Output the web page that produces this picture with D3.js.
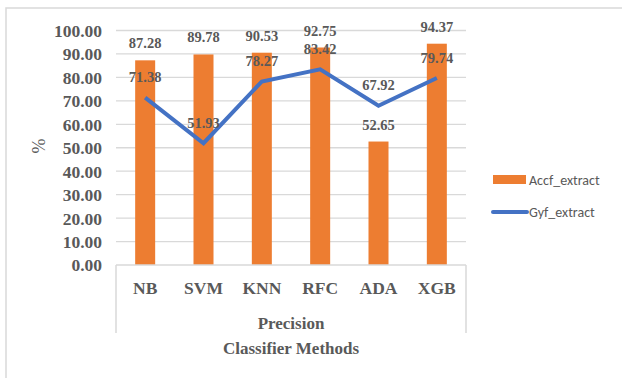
<!DOCTYPE html>
<html><head><meta charset="utf-8">
<script src="https://cdn.jsdelivr.net/npm/d3@7"></script>
<style>body{margin:0;background:#fff}svg{display:block}</style>
</head><body>
<svg id="c" width="622" height="378"></svg>
<script>
const categories = ["NB","SVM","KNN","RFC","ADA","XGB"];
const accfValues = [87.28, 89.78, 90.53, 92.75, 52.65, 94.37];
const gyfValues = [71.38, 51.93, 78.27, 83.42, 67.92, 79.74];
const yTicks = [0,10,20,30,40,50,60,70,80,90,100];
const groupLabel = "Precision";
const xTitle = "Classifier Methods";
const yTitle = "%";
const seriesNames = ["Accf_extract","Gyf_extract"];

(function(){
const svg = d3.select("#c");
const pLeft = 116, pRight = 466, pTop = 30.5, pBottom = 265;
const serif = "'Liberation Serif','Times New Roman',serif";
const sans = "Carlito,'Liberation Sans',Arial,sans-serif";
const txt = "#595959";

// outer frame
svg.append("rect").attr("x",6).attr("y",8).attr("width",640).attr("height",400)
  .attr("fill","none").attr("stroke","#d9d9d9").attr("stroke-width",1.5);

const xc = d3.scaleBand().domain(categories).range([pLeft,pRight]);
const y = d3.scaleLinear().domain([0,100]).range([pBottom,pTop]);
const cx = d => xc(d)+xc.bandwidth()/2;

// gridlines
svg.append("g").selectAll("line").data(yTicks.filter(d=>d>0)).join("line")
  .attr("x1",pLeft).attr("x2",pRight).attr("y1",d=>y(d)).attr("y2",d=>y(d))
  .attr("stroke","#d9d9d9").attr("stroke-width",1.3);

// y axis labels
const yAxis = d3.axisLeft(y).tickValues(yTicks).tickFormat(d3.format(".2f")).tickSize(0).tickPadding(14);
const ya = svg.append("g").attr("transform",`translate(${pLeft},0)`).call(yAxis);
ya.select(".domain").remove();
ya.selectAll("text").attr("font-family",serif).attr("font-weight","bold").attr("font-size",17.5).attr("fill",txt).attr("dy","0.34em");

// bars
const bw = 20;
svg.append("g").selectAll("rect").data(categories).join("rect")
  .attr("x",d=>cx(d)-bw/2).attr("width",bw)
  .attr("y",(d,i)=>y(accfValues[i])).attr("height",(d,i)=>pBottom-y(accfValues[i]))
  .attr("fill","#ED7D31");

// axis lines / group box
const ax = svg.append("g").attr("stroke","#d9d9d9").attr("stroke-width",1.5);
ax.append("line").attr("x1",pLeft).attr("x2",pRight).attr("y1",pBottom).attr("y2",pBottom);
ax.append("line").attr("x1",pLeft).attr("x2",pLeft).attr("y1",pBottom).attr("y2",333);
ax.append("line").attr("x1",pRight).attr("x2",pRight).attr("y1",pBottom).attr("y2",333);

// line
const line = d3.line().x((d,i)=>cx(categories[i])).y(d=>y(d));
svg.append("path").datum(gyfValues).attr("d",line).attr("fill","none")
  .attr("stroke","#4472C4").attr("stroke-width",4).attr("stroke-linejoin","miter");

// data labels
svg.append("g").selectAll("text").data(accfValues).join("text")
  .attr("x",(d,i)=>cx(categories[i])).attr("y",d=>y(d)-12)
  .attr("text-anchor","middle").attr("font-family",serif).attr("font-weight","bold")
  .attr("font-size",14.5).attr("fill",txt).text(d=>d.toFixed(2));
svg.append("g").selectAll("text").data(gyfValues).join("text")
  .attr("x",(d,i)=>cx(categories[i])).attr("y",d=>y(d)-15.5)
  .attr("text-anchor","middle").attr("font-family",serif).attr("font-weight","bold")
  .attr("font-size",14.5).attr("fill",txt).text(d=>d.toFixed(2));

// category labels
svg.append("g").selectAll("text").data(categories).join("text")
  .attr("x",d=>cx(d)).attr("y",294)
  .attr("text-anchor","middle").attr("font-family",serif).attr("font-weight","bold")
  .attr("font-size",17.5).attr("fill",txt).text(d=>d);
svg.append("text").attr("x",(pLeft+pRight)/2).attr("y",329).attr("text-anchor","middle")
  .attr("font-family",serif).attr("font-weight","bold").attr("font-size",17).attr("fill",txt).text(groupLabel);
svg.append("text").attr("x",(pLeft+pRight)/2).attr("y",354).attr("text-anchor","middle")
  .attr("font-family",serif).attr("font-weight","bold").attr("font-size",17).attr("fill",txt).text(xTitle);

// y title
svg.append("text").attr("transform","translate(45,146) rotate(-90)").attr("text-anchor","middle")
  .attr("font-family",serif).attr("font-size",18).attr("fill",txt).text(yTitle);

// legend
const lg = svg.append("g");
lg.append("rect").attr("x",493).attr("y",175).attr("width",33).attr("height",9).attr("fill","#ED7D31");
lg.append("text").attr("x",529).attr("y",185).attr("font-family",sans).attr("font-size",14).attr("fill",txt).text(seriesNames[0]);
lg.append("line").attr("x1",493).attr("x2",527).attr("y1",212).attr("y2",212).attr("stroke","#4472C4").attr("stroke-width",4).attr("stroke-linecap","round");
lg.append("text").attr("x",529).attr("y",217).attr("font-family",sans).attr("font-size",14).attr("fill",txt).text(seriesNames[1]);
})();
</script>
</body></html>
